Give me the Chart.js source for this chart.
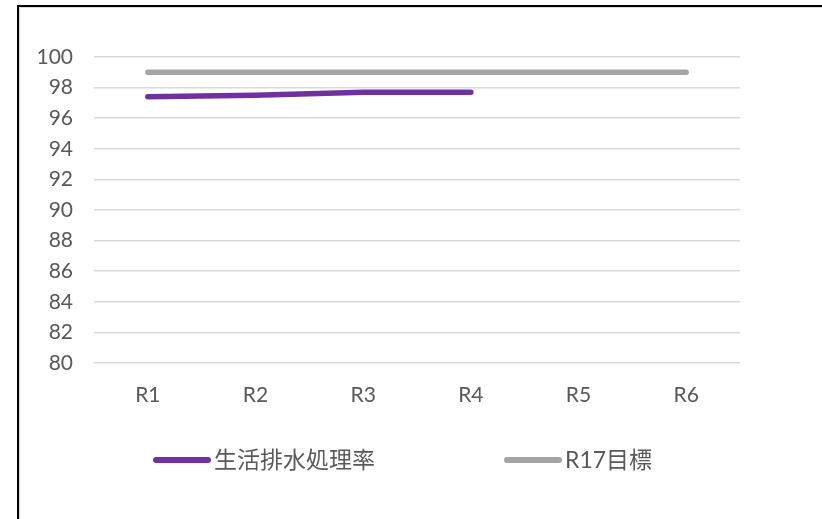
<!DOCTYPE html>
<html>
<head>
<meta charset="utf-8">
<script src="https://cdn.jsdelivr.net/npm/chart.js@4/dist/chart.umd.min.js"></script>
<style>
  body { margin: 0; background: #fff; }
  #frame { position: absolute; left: 17px; top: 5px; width: 822px; height: 530px;
           border-left: 2px solid #000; border-top: 2px solid #000; }
  #inner { position: absolute; left: 0; top: 0; right: 0; bottom: 0;
           border-left: 1px solid #d9d9d9; border-top: 1px solid #d9d9d9; }
  #wrap { position: absolute; left: 0; top: 0; width: 822px; height: 519px; }
</style>
</head>
<body>
<div id="frame"><div id="inner"></div></div>
<div id="wrap"><canvas id="line-chart"></canvas></div>
<script>
let labels = ["R1", "R2", "R3", "R4", "R5", "R6"]
let rate_label = "生活排水処理率"
let rate_nums = [97.4, 97.5, 97.7, 97.7, null, null]
let target_label = "R17目標"
let target_nums = [99, 99, 99, 99, 99, 99]

const textColor = "#595959"
const fontFamily = "Lato, 'Noto Sans CJK JP', sans-serif"

// legend drawn by hand so the spacing between items matches
const bottomLegend = {
  id: "bottomLegend",
  afterDraw(chart) {
    const ctx = chart.ctx
    const y = 460
    const starts = [156, 507]
    ctx.save()
    ctx.font = "23px " + fontFamily
    ctx.textBaseline = "middle"
    ctx.fillStyle = textColor
    chart.data.datasets.forEach((ds, i) => {
      const x = starts[i]
      ctx.beginPath()
      ctx.strokeStyle = ds.borderColor
      ctx.lineWidth = 6
      ctx.lineCap = "round"
      ctx.moveTo(x, y)
      ctx.lineTo(x + 52, y)
      ctx.stroke()
      ctx.fillText(ds.label, x + 58, y + 1)
    })
    ctx.restore()
  }
}

const ctx = document.getElementById("line-chart").getContext("2d");

new Chart(ctx, {
  type: "line",
  data: {
    labels: labels,
    datasets: [
      {
        label: rate_label,
        data: rate_nums,
        borderColor: "#7030A0",
        borderWidth: 5.5,
        borderCapStyle: "round",
        pointRadius: 0,
        tension: 0,
        fill: false
      },
      {
        label: target_label,
        data: target_nums,
        borderColor: "#A5A5A5",
        borderWidth: 5.5,
        borderCapStyle: "round",
        pointRadius: 0,
        tension: 0,
        fill: false
      }
    ]
  },
  options: {
    responsive: true,
    maintainAspectRatio: false,
    animation: false,
    layout: {
      padding: { left: 0, top: 57, right: 82, bottom: 86 }
    },
    plugins: {
      legend: { display: false },
      tooltip: { enabled: false }
    },
    scales: {
      x: {
        offset: true,
        grid: { display: false },
        border: { display: false },
        ticks: {
          color: textColor,
          padding: 12,
          font: { family: fontFamily, size: 21 }
        },
        afterFit(scale) { scale.height = 70 }
      },
      y: {
        min: 80,
        max: 100,
        grid: { color: "#d9d9d9", lineWidth: 1.5, drawTicks: false },
        border: { display: false },
        ticks: {
          stepSize: 2,
          color: textColor,
          padding: 21,
          font: { family: fontFamily, size: 21 }
        },
        afterFit(scale) { scale.width = 94 }
      }
    }
  },
  plugins: [bottomLegend]
});
</script>
</body>
</html>
